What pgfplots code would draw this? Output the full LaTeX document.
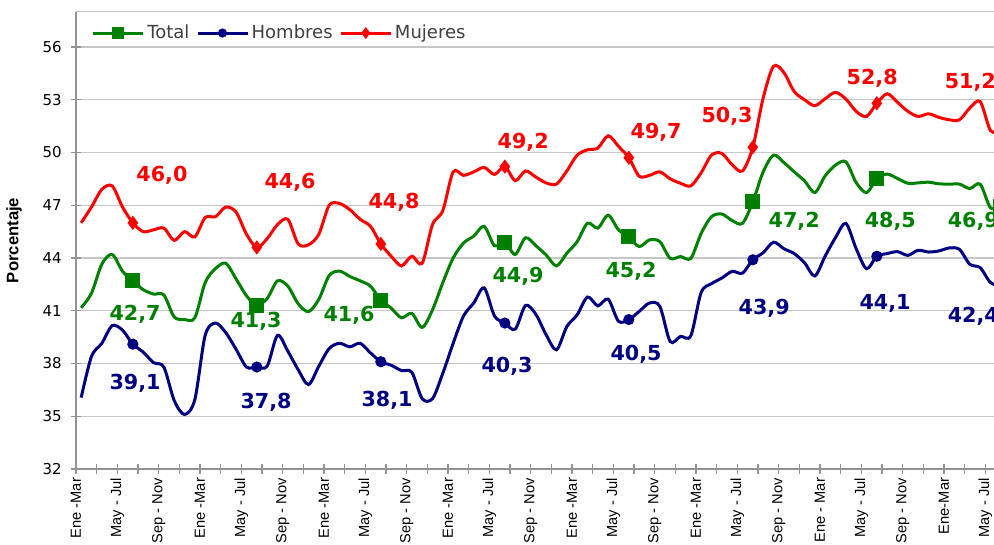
\documentclass[border=0pt]{standalone}
\usepackage{pgfplots}
\pgfplotsset{compat=1.18}
\usepackage{pgfplotstable}
\usepackage{fontspec}
\setmainfont{DejaVu Sans}
\newfontfamily\lib{Liberation Sans}
\definecolor{cgreen}{HTML}{008000}
\definecolor{cnavy}{HTML}{000080}
\definecolor{cred}{HTML}{FF0000}

\pgfplotstableread{
k tot hom muj
0 41.17 36.06 46.0
1 42.0 38.4 46.9
2 43.65 39.15 47.9
3 44.2 40.15 48.1
4 43.25 39.9 46.9
5 42.7 39.1 46.0
6 42.2 38.65 45.5
7 41.95 38.05 45.6
8 41.9 37.8 45.7
9 40.65 35.9 45.0
10 40.5 35.1 45.5
11 40.6 35.95 45.2
12 42.6 39.6 46.3
13 43.4 40.3 46.35
14 43.7 39.75 46.9
15 42.8 38.8 46.6
16 41.85 37.8 45.35
17 41.3 37.8 44.6
18 41.7 37.85 45.1
19 42.7 39.6 45.9
20 42.4 38.7 46.2
21 41.4 37.65 44.8
22 40.95 36.8 44.75
23 41.65 37.85 45.35
24 43.0 38.85 47.0
25 43.25 39.15 47.1
26 42.95 38.95 46.75
27 42.7 39.15 46.2
28 42.4 38.6 45.8
29 41.6 38.1 44.8
30 41.15 37.9 44.1
31 40.6 37.6 43.55
32 40.85 37.5 44.1
33 40.05 36.0 43.7
34 41.05 36.0 45.9
35 42.6 37.45 46.7
36 44.0 39.15 48.9
37 44.85 40.7 48.7
38 45.25 41.45 48.9
39 45.8 42.3 49.15
40 44.7 40.7 48.75
41 44.9 40.3 49.2
42 44.2 39.95 48.4
43 45.15 41.3 48.95
44 44.7 40.8 48.6
45 44.17 39.63 48.27
46 43.55 38.78 48.2
47 44.27 40.1 48.95
48 44.93 40.77 49.85
49 45.98 41.78 50.15
50 45.7 41.28 50.25
51 46.43 41.66 50.95
52 45.6 40.4 50.35
53 45.2 40.5 49.7
54 44.65 40.96 48.65
55 45.03 41.44 48.7
56 44.93 41.25 48.9
57 43.98 39.25 48.5
58 44.08 39.54 48.25
59 43.98 39.58 48.1
60 45.4 42.04 48.85
61 46.35 42.54 49.85
62 46.5 42.86 49.95
63 46.13 43.24 49.3
64 45.97 43.14 48.95
65 47.2 43.9 50.3
66 48.9 44.3 53.1
67 49.85 44.9 54.9
68 49.43 44.53 54.55
69 48.9 44.25 53.47
70 48.39 43.73 53.0
71 47.72 42.98 52.66
72 48.67 44.11 53.06
73 49.28 45.16 53.42
74 49.47 45.97 53.04
75 48.29 44.53 52.34
76 47.72 43.39 52.05
77 48.5 44.1 52.8
78 48.77 44.25 53.34
79 48.52 44.36 52.85
80 48.25 44.15 52.34
81 48.27 44.44 52.05
82 48.31 44.34 52.2
83 48.22 44.4 52.0
84 48.2 44.57 51.86
85 48.2 44.49 51.86
86 47.95 43.64 52.53
87 48.2 43.45 52.9
88 46.85 42.6 51.25
89 46.9 42.4 51.2
}\datatable

\begin{document}
\begin{tikzpicture}
\begin{axis}[
  at={(0pt,0pt)}, anchor=south west,
  scale only axis, width=697.5pt, height=342.9pt,
  xmin=-0.5, xmax=89.5, ymin=32, ymax=58,
  axis lines*=left,
  axis line style={draw=gray!85, line width=0.9pt},
  ytick={32,35,...,56},
  yticklabels={32,35,38,41,44,47,50,53,56},
  extra y ticks={58}, extra y tick labels={},
  extra y tick style={major tick length=0pt},
  ymajorgrids=true,
  grid style={draw=gray!45, line width=0.8pt},
  xtick={-0.5,3.5,...,87.5},
  minor xtick={1.5,5.5,...,89.5},
  xticklabels={Ene -Mar,May - Jul,Sep - Nov,Ene -Mar,May - Jul,Sep - Nov,Ene -Mar,May - Jul,Sep - Nov,Ene -Mar,May - Jul,Sep - Nov,Ene -Mar,May - Jul,Sep - Nov,Ene -Mar,May - Jul,Sep - Nov,Ene - Mar,May - Jul,Sep - Nov,Ene-Mar,May - Jul},
  tick align=center,
  major tick length=7pt, minor tick length=7pt,
  tick style={draw=gray!85, line width=0.8pt},
  minor tick style={draw=gray!85, line width=0.8pt},
  yticklabel style={font=\fontsize{11.25}{13}\selectfont, anchor=east, inner sep=0pt, xshift=-7pt},
  xticklabel style={font=\lib\fontsize{11}{13}\selectfont, yshift=-3pt, rotate=90, anchor=east, inner sep=0pt},
  ylabel={Porcentaje},
  ylabel style={font=\lib\bfseries\fontsize{12.5}{14}\selectfont, at={(axis description cs:-0.0667,0.5)}, anchor=center},
  legend columns=3,
  legend style={at={(axis description cs:0.0151,0.9536)}, anchor=west, draw=none, fill=white,
    font=\fontsize{13.5}{15}\selectfont, text=black!75, inner sep=1pt,
    /tikz/every even column/.append style={column sep=3pt}},
  legend image code/.code={\draw[#1,mark repeat=2,mark phase=2,every mark/.append style={scale=0.75}] plot coordinates {(0pt,0pt) (18.75pt,0pt) (37.5pt,0pt)};},
  every axis plot/.append style={line width=2.25pt, smooth, tension=0.5, mark repeat=12, mark phase=6},
]
\addplot[color=cgreen, mark=square*, mark size=4.5pt, mark options={solid}] table[x=k, y=tot] {\datatable};
\addlegendentry{Total}
\addplot[color=cnavy, mark=*, mark size=3pt] table[x=k, y=hom] {\datatable};
\addlegendentry{Hombres}
\addplot[color=cred, mark=diamond*, mark size=3.5pt] table[x=k, y=muj] {\datatable};
\addlegendentry{Mujeres}

\begin{scope}[every node/.style={font=\bfseries\fontsize{15.5}{17}\selectfont}]
\node[text=cred] at (axis cs:7.82,48.72) {46,0};
\node[text=cred] at (axis cs:20.21,48.32) {44,6};
\node[text=cred] at (axis cs:30.28,47.18) {44,8};
\node[text=cred] at (axis cs:42.77,50.6) {49,2};
\node[text=cred] at (axis cs:55.64,51.17) {49,7};
\node[text=cred] at (axis cs:62.51,52.08) {50,3};
\node[text=cred] at (axis cs:76.55,54.24) {52,8};
\node[text=cred] at (axis cs:86.04,54.01) {51,2};
\node[text=cgreen] at (axis cs:5.21,40.82) {42,7};
\node[text=cgreen] at (axis cs:16.92,40.42) {41,3};
\node[text=cgreen] at (axis cs:25.92,40.76) {41,6};
\node[text=cgreen] at (axis cs:42.28,42.98) {44,9};
\node[text=cgreen] at (axis cs:53.22,43.26) {45,2};
\node[text=cgreen] at (axis cs:69.0,46.1) {47,2};
\node[text=cgreen] at (axis cs:78.3,46.1) {48,5};
\node[text=cgreen] at (axis cs:86.33,46.1) {46,9};
\node[text=cnavy] at (axis cs:5.21,36.89) {39,1};
\node[text=cnavy] at (axis cs:17.89,35.81) {37,8};
\node[text=cnavy] at (axis cs:29.6,35.92) {38,1};
\node[text=cnavy] at (axis cs:41.21,37.86) {40,3};
\node[text=cnavy] at (axis cs:53.7,38.54) {40,5};
\node[text=cnavy] at (axis cs:66.1,41.16) {43,9};
\node[text=cnavy] at (axis cs:77.8,41.44) {44,1};
\node[text=cnavy] at (axis cs:86.33,40.7) {42,4};
\end{scope}
\end{axis}
\pgfresetboundingbox
\useasboundingbox (-57pt,-56.25pt) rectangle (688.5pt,351.75pt);
\end{tikzpicture}
\end{document}
